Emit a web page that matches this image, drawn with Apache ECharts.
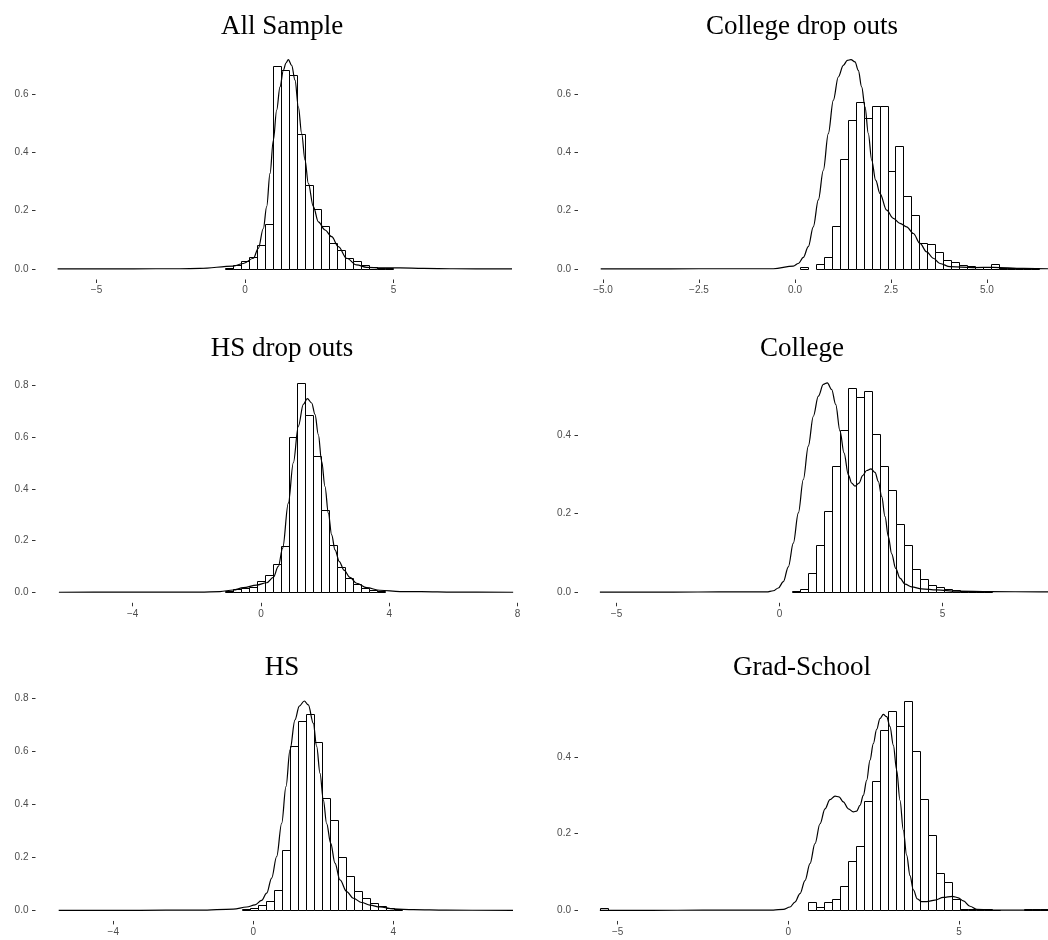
<!DOCTYPE html>
<html>
<head>
<meta charset="utf-8">
<script src="https://cdn.jsdelivr.net/npm/echarts@6/dist/echarts.min.js"></script>
<style>html,body{margin:0;padding:0;background:#fff}#c{width:1048px;height:940px}</style>
</head>
<body>
<div id="c"></div>
<script>
// ---------- DATA ----------
const panelTitles = ['All Sample', 'College drop outs', 'HS drop outs', 'College', 'HS', 'Grad-School'];

// All Sample
const allBinStart = -0.662;
const allBinWidth = 0.2694;
const allHist = [0.002,0.014,0.029,0.042,0.081,0.155,0.697,0.682,0.665,0.465,0.290,0.207,0.149,0.088,0.064,0.037,0.026,0.015,0.007,0.005,0.003];
const allDensX = [-6.31,-4.5,-3.0,-2.2,-1.515,-0.393,-0.056,0.281,0.449,0.617,0.730,0.842,0.954,1.066,1.178,1.291,1.380,1.459,1.571,1.684,1.796,1.908,2.020,2.132,2.301,2.469,2.694,2.918,3.143,3.423,3.760,4.097,4.6,5.219,6.0,7.0,8.99];
const allDensY = [0.0003,0.0005,0.001,0.001,0.002,0.010,0.019,0.037,0.071,0.139,0.214,0.328,0.442,0.545,0.625,0.682,0.707,0.719,0.699,0.648,0.557,0.465,0.374,0.294,0.214,0.162,0.134,0.111,0.077,0.037,0.014,0.006,0.004,0.004,0.002,0.001,0.0003];
const allXTicks = [-5, 0, 5];
const allYTicks = [0, 0.2, 0.4, 0.6];

// College drop outs
const cdoBinStart = 0.133;
const cdoBinWidth = 0.207;
const cdoHist = [0.008,0,0.016,0.042,0.147,0.377,0.511,0.574,0.520,0.560,0.560,0.337,0.421,0.251,0.186,0.091,0.085,0.059,0.030,0.023,0.013,0.011,0.006,0.006,0.018,0.005,0.003,0.003,0.002,0.002];
const cdoDensX = [-5.06,-4.0,-2.5,-1.432,-0.564,-0.043,0.087,0.217,0.347,0.477,0.608,0.738,0.868,0.998,1.128,1.259,1.363,1.458,1.563,1.649,1.736,1.823,1.910,1.997,2.101,2.214,2.387,2.561,2.734,2.908,3.082,3.255,3.429,3.602,3.776,4.036,4.644,5.165,5.946,6.6,7.4];
const cdoDensY = [0.0003,0.0005,0.001,0.001,0.001,0.010,0.019,0.040,0.077,0.145,0.237,0.339,0.465,0.579,0.659,0.699,0.716,0.719,0.711,0.682,0.625,0.557,0.465,0.374,0.305,0.259,0.202,0.174,0.157,0.145,0.122,0.088,0.059,0.037,0.019,0.008,0.005,0.006,0.002,0.001,0.0005];
const cdoXTicks = [-5, -2.5, 0, 2.5, 5];
const cdoYTicks = [0, 0.2, 0.4, 0.6];

// HS drop outs
const hsdoBinStart = -1.111;
const hsdoBinWidth = 0.2494;
const hsdoHist = [0.006,0.011,0.015,0.022,0.044,0.068,0.108,0.180,0.601,0.810,0.686,0.528,0.318,0.182,0.098,0.054,0.031,0.017,0.009,0.007];
const hsdoDensX = [-6.30,-4.5,-3.0,-1.902,-1.278,-0.862,-0.551,-0.135,0.177,0.384,0.540,0.675,0.852,1.008,1.164,1.320,1.444,1.579,1.683,1.787,1.891,1.995,2.099,2.203,2.307,2.442,2.587,2.774,2.982,3.294,3.709,4.333,5.0,6.0,7.86];
const hsdoDensY = [0.0003,0.0005,0.001,0.001,0.003,0.009,0.018,0.028,0.037,0.058,0.100,0.171,0.345,0.501,0.642,0.727,0.749,0.732,0.688,0.610,0.506,0.409,0.306,0.222,0.164,0.119,0.086,0.058,0.035,0.018,0.008,0.003,0.003,0.001,0.0003];
const hsdoXTicks = [-4, 0, 4, 8];
const hsdoYTicks = [0, 0.2, 0.4, 0.6, 0.8];

// College
const colBinStart = 0.373;
const colBinWidth = 0.2454;
const colHist = [0.003,0.008,0.050,0.121,0.207,0.321,0.412,0.520,0.497,0.512,0.403,0.321,0.261,0.173,0.121,0.059,0.034,0.019,0.013,0.009,0.006,0.003,0.003,0.002,0.002];
const colDensX = [-5.51,-4.0,-2.5,-1.212,-0.394,-0.189,-0.036,0.118,0.271,0.424,0.578,0.731,0.884,1.038,1.191,1.345,1.467,1.600,1.723,1.856,1.979,2.111,2.214,2.316,2.439,2.551,2.674,2.807,2.929,3.032,3.134,3.236,3.338,3.441,3.564,3.696,3.850,4.054,4.361,4.821,5.435,6.457,7.991,9.0];
const colDensY = [0.0003,0.0005,0.0008,0.001,0.001,0.004,0.011,0.027,0.065,0.125,0.202,0.287,0.372,0.448,0.499,0.529,0.533,0.516,0.478,0.410,0.355,0.299,0.278,0.270,0.278,0.297,0.310,0.314,0.305,0.282,0.244,0.193,0.142,0.098,0.061,0.036,0.021,0.014,0.009,0.006,0.003,0.002,0.001,0.0005];
const colXTicks = [-5, 0, 5];
const colYTicks = [0, 0.2, 0.4];

// HS
const hsBinStart = -0.332;
const hsBinWidth = 0.2286;
const hsHist = [0.006,0.010,0.019,0.035,0.076,0.227,0.617,0.713,0.738,0.633,0.422,0.342,0.202,0.128,0.073,0.046,0.028,0.015,0.008,0.004];
const hsDensX = [-5.56,-4.0,-2.5,-1.523,-0.571,-0.189,0.049,0.239,0.382,0.525,0.668,0.811,0.934,1.049,1.191,1.315,1.458,1.572,1.715,1.811,1.906,2.001,2.096,2.211,2.334,2.477,2.668,2.858,3.096,3.334,3.620,4.001,4.572,5.5,7.42];
const hsDensY = [0.0003,0.0005,0.001,0.001,0.005,0.013,0.021,0.038,0.065,0.122,0.203,0.328,0.466,0.604,0.717,0.769,0.788,0.773,0.704,0.617,0.516,0.416,0.327,0.253,0.178,0.115,0.071,0.046,0.030,0.020,0.013,0.006,0.003,0.001,0.0003];
const hsXTicks = [-4, 0, 4];
const hsYTicks = [0, 0.2, 0.4, 0.6, 0.8];

// Grad-School
const gradBinStart = -5.525;
const gradBinWidth = 0.2343;
const gradHist = [0.007,0,0,0,0,0,0,0,0,0,0,0,0,0,0,0,0,0,0,0,0,0,0,0,0,0,
  0.021,0.010,0.023,0.030,0.064,0.130,0.167,0.285,0.338,0.470,0.520,0.480,0.546,0.416,0.290,0.198,0.098,0.075,0.029,0.003,0.005,0.005,0.003,0.002,0,0,0,0.005,0.005,0.004];
const gradDensX = [-5.52,-4.0,-2.5,-1.415,-0.438,-0.146,0.050,0.196,0.343,0.489,0.636,0.782,0.929,1.075,1.221,1.368,1.485,1.612,1.758,1.905,2.003,2.100,2.198,2.296,2.393,2.491,2.588,2.686,2.784,2.881,2.979,3.076,3.174,3.272,3.369,3.467,3.565,3.662,3.779,3.906,4.053,4.297,4.541,4.805,4.980,5.127,5.322,5.517,5.908,6.8,7.8];
const gradDensY = [0.0003,0.0005,0.0008,0.001,0.001,0.003,0.009,0.022,0.044,0.078,0.122,0.174,0.226,0.265,0.289,0.298,0.296,0.283,0.265,0.257,0.259,0.274,0.300,0.339,0.392,0.435,0.472,0.500,0.511,0.505,0.479,0.431,0.366,0.287,0.209,0.144,0.091,0.054,0.030,0.023,0.023,0.027,0.034,0.037,0.033,0.025,0.011,0.003,0.001,0.001,0.0005];
const gradXTicks = [-5, 0, 5];
const gradYTicks = [0, 0.2, 0.4];

// ---------- PANEL SETUP ----------
const panels = [
  {start: allBinStart, bw: allBinWidth, hist: allHist, dx: allDensX, dy: allDensY, xt: allXTicks, yt: allYTicks, dec: 0},
  {start: cdoBinStart, bw: cdoBinWidth, hist: cdoHist, dx: cdoDensX, dy: cdoDensY, xt: cdoXTicks, yt: cdoYTicks, dec: 1},
  {start: hsdoBinStart, bw: hsdoBinWidth, hist: hsdoHist, dx: hsdoDensX, dy: hsdoDensY, xt: hsdoXTicks, yt: hsdoYTicks, dec: 0},
  {start: colBinStart, bw: colBinWidth, hist: colHist, dx: colDensX, dy: colDensY, xt: colXTicks, yt: colYTicks, dec: 0},
  {start: hsBinStart, bw: hsBinWidth, hist: hsHist, dx: hsDensX, dy: hsDensY, xt: hsXTicks, yt: hsYTicks, dec: 0},
  {start: gradBinStart, bw: gradBinWidth, hist: gradHist, dx: gradDensX, dy: gradDensY, xt: gradXTicks, yt: gradYTicks, dec: 0}
];

// layout (pixels) and x-extent of each panel
const PH = 230.45;
const layout = [
  {left: 35.5, width: 499.5, top: 49.05, xMin: -7.054, xMax: 9.764, tx: 282, ty: 27},
  {left: 578, width: 470, top: 49.05, xMin: -5.651, xMax: 6.589, tx: 802, ty: 27},
  {left: 35.5, width: 499.5, top: 372.35, xMin: -7.029, xMax: 8.541, tx: 282, ty: 348.5},
  {left: 578, width: 470, top: 372.35, xMin: -6.181, xMax: 8.236, tx: 802, ty: 348.5},
  {left: 35.5, width: 499.5, top: 690.5, xMin: -6.223, xMax: 8.049, tx: 282, ty: 668},
  {left: 578, width: 470, top: 690.5, xMin: -6.160, xMax: 7.607, tx: 802, ty: 668}
];

const labelColor = '#4d4d4d';
const tickColor = '#333333';
const labelFont = 'Liberation Sans';

function fmt(v, dec) {
  return v.toFixed(dec).replace('-', '\u2212');
}

const grids = [], xAxes = [], yAxes = [], series = [], graphics = [];

panels.forEach((p, i) => {
  const L = layout[i];
  const maxV = Math.max(Math.max.apply(null, p.hist), Math.max.apply(null, p.dy));
  grids.push({left: L.left, top: L.top, width: L.width, height: PH, containLabel: false});
  xAxes.push({
    type: 'value', gridIndex: i, min: L.xMin, max: L.xMax, position: 'bottom',
    axisLine: {show: false, onZero: false},
    splitLine: {show: false},
    axisTick: {show: true, length: 3.5, customValues: p.xt, lineStyle: {color: tickColor, width: 1}},
    axisLabel: {show: true, customValues: p.xt, margin: 6, color: labelColor, fontSize: 10, fontFamily: labelFont,
      formatter: (v) => fmt(v, p.dec)}
  });
  yAxes.push({
    type: 'value', gridIndex: i, min: -0.05 * maxV, max: 1.05 * maxV, position: 'left',
    axisLine: {show: false, onZero: false},
    splitLine: {show: false},
    axisTick: {show: true, length: 3.5, customValues: p.yt, lineStyle: {color: tickColor, width: 1}},
    axisLabel: {show: true, customValues: p.yt, margin: 7, color: labelColor, fontSize: 10, fontFamily: labelFont,
      formatter: (v) => v.toFixed(1)}
  });
  const bars = [];
  p.hist.forEach((h, k) => {
    if (h > 0) bars.push([p.start + k * p.bw, p.start + (k + 1) * p.bw, h]);
  });
  series.push({
    type: 'custom', xAxisIndex: i, yAxisIndex: i, z: 2, clip: true,
    encode: {x: [0, 1], y: 2},
    data: bars,
    renderItem: function (params, api) {
      const a = api.coord([api.value(0), api.value(2)]);
      const b = api.coord([api.value(1), 0]);
      const x0 = Math.round(a[0]) + 0.5, x1 = Math.round(b[0]) + 0.5;
      const y0 = Math.round(a[1]) + 0.5, y1 = Math.round(b[1]) + 0.5;
      return {
        type: 'rect',
        shape: {x: x0, y: y0, width: x1 - x0, height: y1 - y0},
        style: {fill: '#ffffff', stroke: '#000000', lineWidth: 1}
      };
    }
  });
  series.push({
    type: 'line', xAxisIndex: i, yAxisIndex: i, z: 3,
    data: p.dx.map((x, k) => [x, p.dy[k]]),
    showSymbol: false, symbol: 'none',
    smooth: 0.35, smoothMonotone: 'x',
    clip: true,
    lineStyle: {color: '#000000', width: 1.2},
    silent: true
  });
  graphics.push({
    type: 'text', x: L.tx, y: L.ty, silent: true,
    style: {text: panelTitles[i], fill: '#000', font: '27px "Liberation Serif"',
      textAlign: 'center', textVerticalAlign: 'middle', align: 'center', verticalAlign: 'middle'}
  });
});

const chart = echarts.init(document.getElementById('c'), null, {renderer: 'canvas'});
chart.setOption({
  animation: false,
  backgroundColor: '#ffffff',
  grid: grids,
  xAxis: xAxes,
  yAxis: yAxes,
  series: series,
  graphic: graphics
});
</script>
</body>
</html>
